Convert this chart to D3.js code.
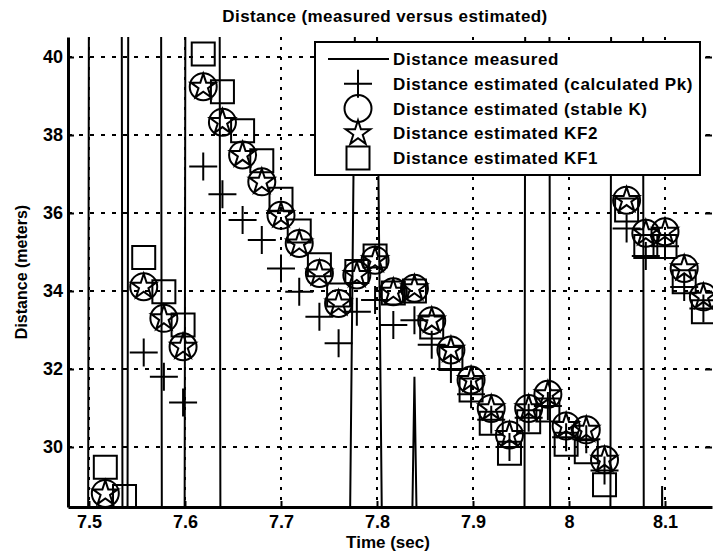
<!DOCTYPE html>
<html>
<head>
<meta charset="utf-8">
<script src="https://cdn.jsdelivr.net/npm/d3@7"></script>
<style>
  body { margin: 0; background: #fff; }
  text { font-family: "Liberation Sans", Arial, sans-serif; font-weight: bold; fill: #000; }
</style>
</head>
<body>
<div id="container"></div>
<script>
/* DATA */
// sample times of the estimates (sec)
const times = [7.517, 7.537, 7.557, 7.578, 7.598, 7.619, 7.639, 7.660, 7.680, 7.700, 7.719,
  7.740, 7.760, 7.779, 7.798, 7.817, 7.839, 7.857, 7.877, 7.898, 7.919, 7.938, 7.958,
  7.978, 7.997, 8.018, 8.037, 8.060, 8.080, 8.100, 8.120, 8.140];

// null = off the visible range
const estCalcPk = [null, null, 32.42, 31.80, 31.14, 37.19, 36.48, 35.82, 35.31, 34.58, 33.98,
  33.34, 32.66, 33.47, 33.77, 33.13, 33.25, 32.62, 32.00, 31.35, 30.70, 30.00, 30.75,
  31.05, 30.25, 30.20, 29.40, 35.60, 34.90, 35.15, 34.10, 33.55];

const estStableK = [28.81, null, 34.11, 33.30, 32.57, 39.24, 38.33, 37.49, 36.80, 35.94, 35.22,
  34.45, 33.68, 34.41, 34.79, 33.98, 34.07, 33.24, 32.49, 31.72, 30.99, 30.31, 30.99,
  31.35, 30.54, 30.44, 29.67, 36.33, 35.48, 35.52, 34.58, 33.85];

const estKF2 = [28.81, null, 34.11, 33.30, 32.57, 39.24, 38.33, 37.49, 36.80, 35.94, 35.22,
  34.45, 33.68, 34.41, 34.79, 33.98, 34.07, 33.24, 32.49, 31.72, 30.99, 30.31, 30.99,
  31.35, 30.54, 30.44, 29.67, 36.33, 35.48, 35.52, 34.58, 33.85];

const estKF1 = [29.48, 28.73, 34.86, 33.98, 33.13, 40.08, 39.11, 38.11, 37.34, 36.35, 35.54,
  34.67, 33.90, 34.50, 34.90, 33.95, 34.00, 33.08, 32.27, 31.46, 30.61, 29.84, 30.65,
  30.95, 30.07, 29.88, 29.03, 36.08, 35.14, 35.14, 34.24, 33.47];

// measured distance: mostly dropouts (0) and outliers, so it only crosses the view
const measuredTime = [7.470, 7.4975, 7.5015, 7.5325, 7.5365, 7.5385, 7.5425, 7.5735, 7.5775,
  7.598, 7.602, 7.6345, 7.6385, 7.7605, 7.7885, 7.8165, 7.819, 7.839, 7.859,
  7.952, 7.956, 7.978, 7.982, 8.0415, 8.0455, 8.0755, 8.0795, 8.092, 8.097, 8.102, 8.160];
const measuredValue = [0, 0, 69, 69, 0, 0, 69, 69, 0,
  0, 69, 69, 0, 0, 69, 0, 0, 31.8, 0,
  0, 69, 69, 0, 0, 69, 69, 0, 0, 29.0, 0, 0];

const xTicks = [7.5, 7.6, 7.7, 7.8, 7.9, 8.0, 8.1];
const yTicks = [30, 32, 34, 36, 38, 40];

const legendLabels = [
  "Distance measured",
  "Distance estimated (calculated Pk)",
  "Distance estimated (stable K)",
  "Distance estimated KF2",
  "Distance estimated KF1"
];

/* CONSTANTS */
const width = 713, height = 556;
const plot = { left: 68, right: 712, top: 37, bottom: 507 };

/* SCALES */
const xScale = d3.scaleLinear()
  .domain([7.47813, 8.14896])
  .range([plot.left, plot.right]);

const yScale = d3.scaleLinear()
  .domain([28.4615, 40.513])
  .range([plot.bottom, plot.top]);

const svg = d3.select("#container")
  .append("svg")
  .attr("width", width)
  .attr("height", height);

svg.append("rect").attr("width", width).attr("height", height).attr("fill", "#fff");

svg.append("clipPath").attr("id", "clip")
  .append("rect")
  .attr("x", plot.left).attr("y", plot.top)
  .attr("width", plot.right - plot.left).attr("height", plot.bottom - plot.top);

// GRID (dotted)
svg.append("g").selectAll("line.vgrid")
  .data(xTicks)
  .join("line")
  .attr("class", "vgrid")
  .attr("x1", d => xScale(d)).attr("x2", d => xScale(d))
  .attr("y1", plot.top).attr("y2", plot.bottom)
  .attr("stroke", "#000").attr("stroke-width", 2)
  .attr("stroke-dasharray", "3,7");

svg.append("g").selectAll("line.hgrid")
  .data(yTicks)
  .join("line")
  .attr("class", "hgrid")
  .attr("x1", plot.left).attr("x2", plot.right)
  .attr("y1", d => yScale(d)).attr("y2", d => yScale(d))
  .attr("stroke", "#000").attr("stroke-width", 2)
  .attr("stroke-dasharray", "4,7");

// MEASURED LINE
const measured = measuredTime.map((t, i) => ({ t, v: measuredValue[i] }));
const lineFunction = d3.line()
  .x(d => xScale(d.t))
  .y(d => yScale(d.v));

svg.append("path")
  .datum(measured)
  .attr("clip-path", "url(#clip)")
  .attr("fill", "none")
  .attr("stroke", "#000")
  .attr("stroke-width", 2)
  .attr("d", lineFunction);

// MARKERS
const circleSym = d3.symbol(d3.symbolCircle, Math.PI * 13.5 * 13.5);
const starSym = d3.symbol(d3.symbolStar, 13 * 13 / 0.8908130915);
const squareSym = d3.symbol(d3.symbolSquare, 23 * 23);
const plusPath = "M-14,0H14M0,-14V14";

const series = [
  { values: estCalcPk, shape: plusPath },
  { values: estStableK, shape: circleSym() },
  { values: estKF2, shape: starSym() },
  { values: estKF1, shape: squareSym() }
];

series.forEach(s => {
  const pts = times.map((t, i) => ({ t, v: s.values[i] })).filter(d => d.v !== null);
  svg.append("g")
    .selectAll("path")
    .data(pts)
    .join("path")
    .attr("transform", d => `translate(${xScale(d.t)},${yScale(d.v)})`)
    .attr("d", s.shape)
    .attr("fill", "none")
    .attr("stroke", "#000")
    .attr("stroke-width", 2);
});

// AXES
const xAxis = d3.axisBottom(xScale)
  .tickValues(xTicks)
  .tickFormat(d3.format("~g"))
  .tickSizeInner(-6).tickSizeOuter(0).tickPadding(8);

const yAxis = d3.axisLeft(yScale)
  .tickValues(yTicks)
  .tickFormat(d3.format("d"))
  .tickSizeInner(-6).tickSizeOuter(0).tickPadding(5);

const gx = svg.append("g")
  .attr("transform", `translate(0, ${plot.bottom})`)
  .call(xAxis);

const gy = svg.append("g")
  .attr("transform", `translate(${plot.left}, 0)`)
  .call(yAxis);

[gx, gy].forEach(g => {
  g.select(".domain").attr("stroke-width", 3);
  g.selectAll(".tick line").attr("stroke-width", 2);
  g.selectAll(".tick text")
    .attr("font-family", "'Liberation Sans', Arial, sans-serif")
    .attr("font-weight", "bold")
    .attr("font-size", 18);
});

// inward ticks on the right edge
svg.append("g")
  .attr("transform", `translate(${plot.right}, 0)`)
  .call(d3.axisRight(yScale).tickValues(yTicks).tickFormat("").tickSizeInner(-7).tickSizeOuter(0))
  .call(g => g.select(".domain").remove())
  .call(g => g.selectAll(".tick line").attr("stroke-width", 2));

// LEGEND
const legend = svg.append("g");
legend.append("rect")
  .attr("x", 315).attr("y", 42)
  .attr("width", 385).attr("height", 133)
  .attr("fill", "#fff").attr("stroke", "#000").attr("stroke-width", 2);

const legendShapes = [null, plusPath, circleSym(), starSym(), squareSym()];
const legendY = d3.scalePoint().domain(d3.range(legendLabels.length)).range([59, 158]);

legendLabels.forEach((label, i) => {
  const yy = legendY(i);
  if (i === 0) {
    legend.append("line")
      .attr("x1", 328).attr("x2", 389)
      .attr("y1", yy).attr("y2", yy)
      .attr("stroke", "#000").attr("stroke-width", 2);
  } else {
    legend.append("path")
      .attr("transform", `translate(358, ${yy})`)
      .attr("d", legendShapes[i])
      .attr("fill", "none").attr("stroke", "#000").attr("stroke-width", 2);
  }
  legend.append("text")
    .attr("x", 393).attr("y", yy)
    .attr("dy", "0.36em")
    .attr("font-size", 17)
    .attr("letter-spacing", 0.6)
    .text(label);
});

// TITLES
svg.append("text")
  .attr("x", 385).attr("y", 22)
  .attr("text-anchor", "middle")
  .attr("font-size", 17)
  .attr("letter-spacing", 0.4)
  .text("Distance (measured versus estimated)");

svg.append("text")
  .attr("x", 388).attr("y", 548)
  .attr("text-anchor", "middle")
  .attr("font-size", 17)
  .text("Time (sec)");

svg.append("text")
  .attr("transform", "translate(27, 272) rotate(-90)")
  .attr("text-anchor", "middle")
  .attr("font-size", 16)
  .text("Distance (meters)");
</script>
</body>
</html>
